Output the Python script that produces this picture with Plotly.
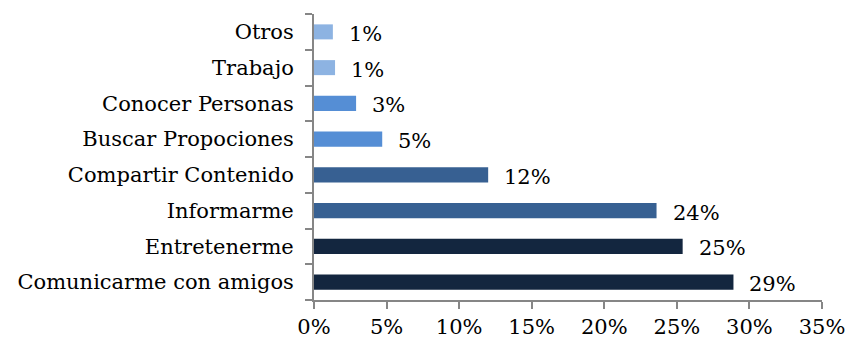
import plotly.graph_objects as go

# Survey: main reasons for using social networks (share of respondents)
categories = [
    "Comunicarme con amigos",
    "Entretenerme",
    "Informarme",
    "Compartir Contenido",
    "Buscar Propociones",
    "Conocer Personas",
    "Trabajo",
    "Otros",
]
shares = [0.289, 0.254, 0.236, 0.120, 0.047, 0.029, 0.0145, 0.013]
bar_colors = [
    "#13263F", "#13263F",
    "#376092", "#376092",
    "#558ED5", "#558ED5",
    "#8DB3E2", "#8DB3E2",
]
x_ticks = [0, 0.05, 0.10, 0.15, 0.20, 0.25, 0.30, 0.35]
x_tick_labels = ["0%", "5%", "10%", "15%", "20%", "25%", "30%", "35%"]

FONT = "DejaVu Serif"
AXIS_GRAY = "#868686"

fig = go.Figure(
    go.Bar(
        x=shares,
        y=categories,
        orientation="h",
        marker=dict(color=bar_colors, line=dict(width=0)),
        hoverinfo="skip",
    )
)

# value labels placed just right of each bar end
for cat, val in zip(categories, shares):
    fig.add_annotation(
        x=val, y=cat, xref="x", yref="y",
        text=f"{val:.0%}", showarrow=False,
        xanchor="left", yanchor="middle", xshift=14, yshift=-2,
        font=dict(family=FONT, size=21, color="#000000"),
    )

fig.update_layout(
    width=846, height=341,
    margin=dict(l=314, r=24, t=14, b=41, autoexpand=False),
    paper_bgcolor="white", plot_bgcolor="white",
    bargap=0.58,
    showlegend=False,
    font=dict(family=FONT, size=21, color="#000000"),
)
fig.update_xaxes(
    range=[0, 0.35],
    tickvals=x_ticks, ticktext=x_tick_labels,
    showgrid=False, zeroline=False, automargin=False,
    showline=True, linecolor=AXIS_GRAY, linewidth=2,
    ticks="outside", ticklen=7, tickwidth=2, tickcolor=AXIS_GRAY,
    tickfont=dict(family=FONT, size=21),
)
fig.update_yaxes(
    type="category",
    categoryorder="array", categoryarray=categories,
    showgrid=False, zeroline=False, automargin=False,
    showline=True, linecolor=AXIS_GRAY, linewidth=2,
    ticks="outside", ticklen=7, tickwidth=2, tickcolor=AXIS_GRAY,
    tickson="boundaries", ticklabelstandoff=14,
    tickfont=dict(family=FONT, size=21),
)

fig.write_html("out.html")
